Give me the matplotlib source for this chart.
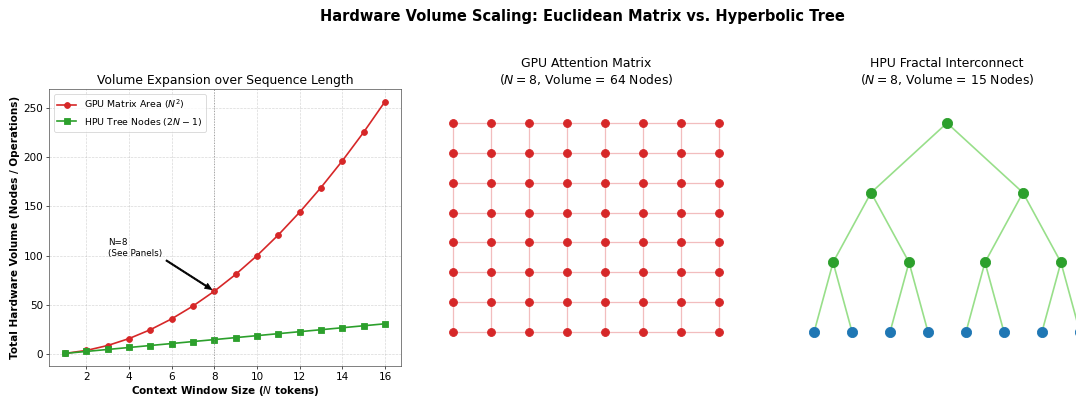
import matplotlib
matplotlib.use("Agg")
import matplotlib.pyplot as plt
import numpy as np

# sequence-length sweep (left panel)
context_n = [1, 2, 3, 4, 5, 6, 7, 8, 9, 10, 11, 12, 13, 14, 15, 16]
gpu_area = [1, 4, 9, 16, 25, 36, 49, 64, 81, 100, 121, 144, 169, 196, 225, 256]
hpu_nodes = [1, 3, 5, 7, 9, 11, 13, 15, 17, 19, 21, 23, 25, 27, 29, 31]

# panel size
N = 8
matrix_nodes = 64
tree_nodes = 15

RED = '#d62728'
GREEN = '#2ca02c'
BLUE = '#1f77b4'

W, H = 1076, 396
fig = plt.figure(figsize=(W / 60, H / 60), dpi=60)

def px_axes(x0, x1, y0, y1):
    # pixel box (top-left origin) -> figure axes
    return fig.add_axes([x0 / W, (H - y1) / H, (x1 - x0) / W, (y1 - y0) / H])

fig.suptitle("Hardware Volume Scaling: Euclidean Matrix vs. Hyperbolic Tree",
             fontsize=17.6, fontweight='bold', x=582 / W, y=1 - 16 / H, va='center')

# Left: volume curves
ax1 = px_axes(49, 401, 89, 366)
ax1.plot(context_n, gpu_area, 'o-', color=RED, lw=2, markersize=7, label=r'GPU Matrix Area ($N^2$)')
ax1.plot(context_n, hpu_nodes, 's-', color=GREEN, lw=2, markersize=7, label=r'HPU Tree Nodes ($2N-1$)')
ax1.axvline(N, color='gray', linestyle=':', alpha=0.7, lw=1.2)
ax1.annotate('N=8\n(See Panels)', xy=(N, gpu_area[N - 1]), xytext=(3, 100), fontsize=10.5,
             arrowprops=dict(facecolor='black', edgecolor='black', shrink=0.05, width=1.5, headwidth=7, headlength=8))
ax1.set_title("Volume Expansion over Sequence Length", fontsize=14.8)
ax1.set_xlabel(r"Context Window Size ($N$ tokens)", fontsize=12.5, fontweight='bold', labelpad=3)
ax1.set_ylabel("Total Hardware Volume (Nodes / Operations)", fontsize=12.5, fontweight='bold')
ax1.grid(True, linestyle='--', alpha=0.5)
ax1.legend(loc='upper left', fontsize=11.3)
ax1.tick_params(labelsize=12.5)
for sp in ax1.spines.values():
    sp.set_color('#444444')

# Middle: dense N x N matrix
ax2 = px_axes(410, 762, 89, 366)
for i in range(N):
    ax2.plot([0, N - 1], [i, i], color=RED, alpha=0.3, lw=1.5, zorder=1)
    ax2.plot([i, i], [0, N - 1], color=RED, alpha=0.3, lw=1.5, zorder=1)
gx, gy = np.meshgrid(np.arange(N), np.arange(N))
ax2.scatter(gx.ravel(), gy.ravel(), s=90, color=RED, zorder=2)
ax2.set_xlim(-1.135, N - 1 + 1.135)
ax2.set_ylim(-1.135, N - 1 + 1.135)
ax2.axis('off')
ax2.set_title(f"GPU Attention Matrix\n($N={N}$, Volume = {matrix_nodes} Nodes)", fontsize=14.8)

# Right: binary tree over N leaves
ax3 = px_axes(771, 1123, 89, 366)
level_x = [np.arange(N, dtype=float)]
while len(level_x[-1]) > 1:
    prev = level_x[-1]
    level_x.append((prev[0::2] + prev[1::2]) / 2)
for lvl in range(1, len(level_x)):
    for k, px in enumerate(level_x[lvl]):
        for c in (2 * k, 2 * k + 1):
            ax3.plot([px, level_x[lvl - 1][c]], [lvl, lvl - 1], color='#98df8a', lw=2, zorder=1)
ax3.scatter(level_x[0], np.zeros(N), s=150, color=BLUE, zorder=2)
for lvl in range(1, len(level_x)):
    ax3.scatter(level_x[lvl], np.full(len(level_x[lvl]), lvl), s=150, color=GREEN, zorder=2)
ax3.set_xlim(-1.135, N - 1 + 1.135)
ax3.set_ylim(-0.488, 3.488)
ax3.axis('off')
ax3.set_title(f"HPU Fractal Interconnect\n($N={N}$, Volume = {tree_nodes} Nodes)", fontsize=14.8)

fig.savefig("out.png", dpi=60)
